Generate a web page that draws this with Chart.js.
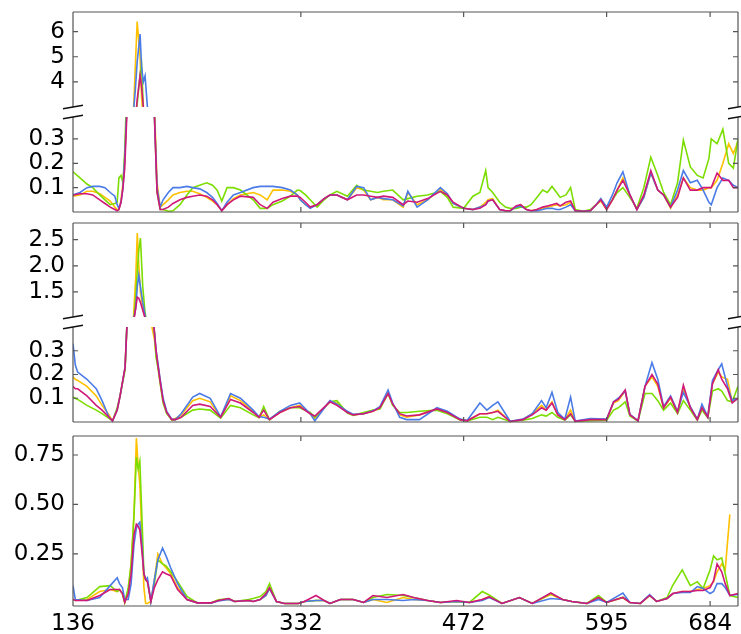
<!DOCTYPE html>
<html><head><meta charset="utf-8">
<script src="https://cdn.jsdelivr.net/npm/chart.js@4.4.1/dist/chart.umd.min.js"></script>
<style>
html,body{margin:0;padding:0;background:#fff;}
#wrap{position:relative;width:741px;height:634px;overflow:hidden;background:#fff;}
canvas{position:absolute;left:0;}
</style></head><body>
<div id="wrap">
<canvas id="c1"></canvas><canvas id="c2"></canvas><canvas id="c3"></canvas><canvas id="c4"></canvas><canvas id="c5"></canvas>
</div>
<script>
// ---- x axis ----
const xTicks = [136, 332, 472, 595, 684];
const xTickLabels = ['136', '332', '472', '595', '684'];

// ---- y tick labels per axis ----
const p1UpperTicks = [4, 5, 6];
const p1UpperLabels = ['4', '5', '6'];
const p1LowerTicks = [0.1, 0.2, 0.3];
const p1LowerLabels = ['0.1', '0.2', '0.3'];
const p2UpperTicks = [1.5, 2.0, 2.5];
const p2UpperLabels = ['1.5', '2.0', '2.5'];
const p2LowerTicks = [0.1, 0.2, 0.3];
const p2LowerLabels = ['0.1', '0.2', '0.3'];
const p3Ticks = [0.25, 0.5, 0.75];
const p3Labels = ['0.25', '0.50', '0.75'];

// ---- panel 1 (broken axis) ----
const p1X = [136,142,148,153,159,163.5,168,172,174,175.5, 177.3,179,180.5,182.5,185,188,189.5,191.2,193.7,195, 196.5,198,200,203,206,208.3,211,213.5,218,222, 228,234,239,245,251,256,260,264,268.5,274, 280,291,297,303,308,316,323,329,331.4,336, 340,346,352,357,363,372,380,386,392,398, 403,411,420,424,432,441,452,458,463,472, 480,486,491,493,497,503,508,512,517,521, 526,530,535,540,544,548,552,555,560,564, 568,575,581,586,590,595,600,604,609,615, 621,627,633,639,644,650,656,661,667,673, 678,683,685,690,695,700,704,708];
const p1Yellow = [.065,.07,.085,.085,.075,.06,.045,.02,.01,.01, .05,.12,.22,.45,1.5,2.8,4.5,6.4,5.0,3.4, 2.5,2.0,1.5,.9,.45,.12,.02,.03,.05,.07, .08,.085,.085,.075,.06,.045,.03,.005,.03,.055, .07,.08,.07,.05,.09,.09,.085,.07,.05,.03, .02,.03,.055,.07,.07,.05,.1,.09,.05,.06, .05,.05,.02,.08,.03,.05,.095,.07,.035,.015, .01,.02,.04,.05,.055,.01,.005,.005,.02,.03, .01,.005,.01,.015,.02,.025,.03,.025,.03,.04, .005,.003,.005,.03,.045,.01,.05,.09,.14,.07, .01,.06,.16,.09,.07,.015,.07,.14,.1,.09, .09,.1,.1,.13,.2,.28,.24,.29];
const p1Blue = [.07,.08,.1,.105,.105,.1,.08,.065,.03,.015, .04,.1,.22,.45,1.5,2.8,3.6,4.8,5.9,4.6, 4.0,4.24,3.0,1.3,.4,.1,.02,.05,.08,.1, .1,.105,.1,.095,.08,.06,.035,.005,.04,.07, .08,.1,.105,.105,.105,.1,.09,.07,.05,.03, .015,.03,.055,.07,.07,.05,.105,.1,.05,.06, .055,.05,.025,.085,.02,.05,.1,.075,.035,.015, .01,.02,.03,.045,.05,.01,.005,.005,.02,.025, .01,.005,.005,.01,.015,.015,.01,.01,.02,.03, .005,.003,.005,.03,.055,.02,.07,.12,.165,.07, .01,.06,.16,.09,.07,.02,.09,.17,.12,.13, .09,.04,.03,.1,.14,.13,.11,.1];
const p1Green = [.165,.14,.115,.1,.07,.05,.03,.035,.04,.14, .15,.12,.25,.55,1.8,2.0,2.5,3.1,4.3,4.65, 3.0,2.2,1.5,.8,.4,.08,.01,.01,.003,.005, .03,.07,.1,.11,.12,.11,.09,.045,.1,.1, .09,.05,.015,.015,.03,.045,.065,.09,.088,.07, .05,.02,.05,.07,.085,.065,.11,.09,.085,.08, .085,.09,.05,.055,.065,.07,.085,.06,.02,.015, .065,.08,.17,.1,.08,.04,.02,.015,.015,.02, .02,.03,.06,.09,.08,.105,.08,.06,.07,.1, .01,.003,.01,.03,.05,.02,.05,.08,.1,.06, .015,.1,.225,.15,.08,.03,.12,.295,.185,.15, .14,.22,.3,.28,.34,.2,.18,.3];
const p1Magenta = [.07,.075,.075,.07,.05,.035,.02,.01,.005,.01, .04,.1,.18,.42,1.5,2.0,2.4,3.3,4.25,3.8, 3.0,2.2,1.5,.8,.4,.08,.01,.01,.02,.035, .05,.06,.065,.07,.065,.05,.03,.005,.03,.05, .065,.06,.03,.015,.04,.055,.065,.065,.06,.04, .02,.03,.055,.07,.07,.05,.07,.07,.065,.06, .065,.06,.03,.045,.04,.055,.085,.07,.04,.015, .01,.015,.03,.045,.05,.01,.005,.005,.025,.03, .01,.005,.01,.02,.025,.03,.035,.025,.04,.045, .005,.003,.005,.03,.05,.01,.05,.09,.13,.07, .01,.07,.17,.09,.07,.02,.06,.14,.09,.09, .1,.1,.1,.16,.13,.13,.1,.1];

// ---- panel 2 (broken axis) ----
const p2X = [136,138,140,148,156,161,167,170,174,176.5, 180.8,182.5,185,188,190,191.3,192.6,194,196,198, 200,203,206,207.5,209,211,213.5,216.6,221,224, 229,239,245,254,263,271.5,280,291,296,300, 305,314,323,331,340,344,357,363,372,377, 386,394,400,407,411,417,423,434,449,458, 469,475,486,492,497,501.5,512,523,531,539, 543,548,553,559,564,568,581,595,601,605, 611,615,622,628,634,639,644,650,656,661, 667,673,677,682,686,691,694,699,703,708];
const p2Yellow = [.19,.18,.175,.15,.11,.07,.03,.005,.05,.11, .23,.42,.7,1.0,1.8,2.63,2.0,1.5,1.2,1.0, .8,.42,.35,.28,.24,.17,.09,.04,.01,.015, .03,.09,.1,.085,.02,.11,.09,.045,.02,.03, .01,.04,.06,.07,.035,.015,.085,.08,.04,.03, .035,.045,.06,.12,.075,.03,.02,.03,.055,.04, .01,.005,.035,.035,.04,.05,.002,.01,.035,.07, .05,.085,.03,.01,.05,.003,.01,.01,.08,.09, .13,.03,.005,.15,.19,.15,.06,.1,.04,.14, .06,.01,.065,.02,.16,.21,.19,.18,.085,.1];
const p2Blue = [.33,.24,.21,.18,.14,.09,.02,.005,.05,.11, .23,.42,.7,.95,1.2,1.6,1.82,1.6,1.3,1.05, .9,.6,.38,.3,.25,.18,.1,.045,.012,.01, .035,.105,.12,.1,.022,.12,.1,.05,.022,.02, .012,.045,.07,.08,.035,.005,.09,.075,.045,.032, .035,.047,.065,.135,.08,.02,.01,.01,.06,.045, .012,.006,.08,.05,.07,.085,.003,.012,.035,.09, .06,.125,.04,.012,.105,.004,.015,.012,.085,.1, .13,.032,.006,.15,.25,.18,.065,.11,.045,.125, .065,.012,.075,.022,.175,.22,.245,.15,.09,.1];
const p2Green = [.105,.1,.095,.07,.05,.035,.015,.004,.06,.11, .22,.42,.7,.9,1.4,1.9,2.3,2.53,1.6,1.1, .85,.55,.38,.27,.23,.16,.08,.035,.008,.01, .02,.05,.055,.05,.016,.07,.06,.03,.018,.065, .009,.045,.06,.06,.04,.02,.085,.09,.038,.028, .04,.05,.055,.12,.07,.04,.04,.045,.05,.035, .008,.004,.02,.02,.01,.02,.002,.008,.015,.03, .025,.04,.02,.008,.03,.003,.005,.008,.05,.06, .085,.025,.004,.12,.12,.09,.05,.08,.035,.09, .05,.008,.05,.018,.13,.14,.13,.09,.085,.15];
const p2Magenta = [.15,.14,.14,.11,.07,.05,.02,.005,.05,.11, .23,.42,.7,.9,1.2,1.4,1.38,1.3,1.15,1.0, .85,.55,.38,.3,.24,.17,.09,.04,.01,.01, .02,.07,.075,.065,.02,.095,.08,.04,.02,.05, .01,.04,.06,.065,.035,.025,.085,.07,.04,.03, .035,.045,.06,.12,.075,.035,.025,.03,.055,.04, .01,.005,.035,.035,.04,.045,.002,.01,.03,.06, .05,.08,.03,.01,.035,.003,.01,.01,.085,.095, .135,.03,.005,.15,.2,.16,.06,.105,.04,.155, .06,.01,.06,.02,.16,.22,.18,.14,.08,.1];

// ---- panel 3 ----
const p3X = [136,138,148,159,168,174,176,178.5,180.5,183.5, 186,188.5,190.5,192,193.5,195.5,197,198.5,200,203, 206,209,213,216,220,226,234,243,255,261, 270,275,287,291,297,302,305,311,318,330, 335,345,352,357,366,377,386,394,406,420, 429,441,452,466,477,488,494,505,520,531, 547,557,565,578,588,595,609,615,624,632, 638,647,652,660,667,673,678,684,687,690, 694,697,701,708];
const p3Yellow = [.02,.015,.02,.06,.07,.06,.07,.05,.005,.05, .2,.45,.835,.7,.6,.3,.08,0,0,.01, .12,.25,.2,.18,.15,.08,.02,.003,.003,.015, .02,.01,.015,.01,.02,.04,.075,.01,0,0, .01,.015,.015,0,.02,.02,.005,.02,.005,.03, .02,.015,.005,.01,.005,.02,.035,0,.03,0, .045,.02,.01,0,.03,.005,.03,.005,0,.04, .01,.025,.05,.06,.06,.07,.075,.09,.11,.16, .2,.17,.45,null];
const p3Blue = [.09,.02,.015,.03,.09,.13,.1,.08,.02,.02, .1,.3,.38,.4,.41,.28,.15,.12,.13,.01, .12,.22,.28,.24,.18,.1,.02,.003,.003,.012, .02,.01,.015,.01,.02,.04,.075,.01,0,0, .01,.015,.015,0,.02,.02,.005,.02,.02,.015, .02,.015,.005,.01,.005,.015,.03,0,.03,0, .025,.02,.01,0,.02,.005,.053,.005,0,.045, .01,.025,.05,.055,.055,.085,.075,.05,.06,.1, .1,.08,.04,.045];
const p3Green = [.02,.015,.03,.085,.09,.06,.07,.05,.005,.08, .2,.45,.74,.68,.72,.4,.15,.12,.11,.01, .1,.22,.2,.19,.16,.11,.035,.003,.003,.018, .025,.01,.02,.025,.035,.06,.1,.01,0,0, .01,.015,.015,0,.02,.02,.005,.03,.045,.04, .03,.015,.005,.01,.005,.06,.043,0,.03,0, .05,.02,.01,0,.04,.005,.03,.005,0,.04, .01,.03,.093,.17,.09,.11,.075,.17,.24,.22, .23,.15,.04,.03];
const p3Magenta = [.02,.015,.015,.04,.07,.07,.07,.05,.005,.05, .15,.35,.4,.39,.37,.25,.15,.12,.11,.01, .08,.12,.16,.15,.14,.07,.02,.003,.003,.015, .025,.01,.015,.01,.02,.05,.08,.01,0,0, .01,.04,.015,0,.02,.02,.005,.04,.03,.045, .03,.015,.005,.015,.005,.02,.033,0,.03,0, .053,.02,.01,0,.03,.005,.03,.005,0,.04, .01,.025,.05,.06,.06,.065,.065,.08,.115,.2, .16,.1,.04,.05];

// ---- styling ----
const SERIES = [
  {color: '#FFC000', order: 3},
  {color: '#4A7BE6', order: 1},
  {color: '#7CDD00', order: 2},
  {color: '#D0187A', order: 0}
];
const FONT = {family: 'DejaVu Sans', size: 23};
const SPINE = '#555';

const framePlugin = {
  id: 'frame',
  afterDatasetsDraw(chart) {
    const o = chart.options.plugins.frame;
    const ctx = chart.ctx, a = chart.chartArea;
    const xs = chart.scales.x, ys = chart.scales.y;
    const L = a.left, R = a.right, T = a.top, B = a.bottom;
    const hasTop = o.part !== 'lower', hasBot = o.part !== 'upper';
    ctx.save();
    ctx.strokeStyle = SPINE; ctx.lineWidth = 1.2;
    ctx.beginPath();
    ctx.moveTo(L, T); ctx.lineTo(L, B);
    ctx.moveTo(R, T); ctx.lineTo(R, B);
    if (hasTop) { ctx.moveTo(L, T); ctx.lineTo(R, T); }
    if (hasBot) { ctx.moveTo(L, B); ctx.lineTo(R, B); }
    o.yTicks.forEach(v => {
      const py = ys.getPixelForValue(v);
      ctx.moveTo(L, py); ctx.lineTo(L + 5, py);
      ctx.moveTo(R, py); ctx.lineTo(R - 5, py);
    });
    xTicks.forEach(v => {
      const px = xs.getPixelForValue(v);
      if (px <= L + 1 || px >= R - 1) return;
      if (hasTop) { ctx.moveTo(px, T); ctx.lineTo(px, T + 5); }
      if (hasBot) { ctx.moveTo(px, B); ctx.lineTo(px, B - 5); }
    });
    ctx.stroke();
    if (o.part === 'upper' || o.part === 'lower') {
      const cy = o.part === 'upper' ? B : T;
      ctx.strokeStyle = '#111'; ctx.lineWidth = 1.5;
      ctx.beginPath();
      [L, R].forEach(cx => { ctx.moveTo(cx - 10, cy + 1.8); ctx.lineTo(cx + 10, cy - 1.8); });
      ctx.stroke();
    }
    ctx.restore();
  }
};

function makePanel(id, area, xs, series, yMin, yMax, yTickVals, yTickLabels, part) {
  const W = 741, PAD = 12, XAX = 28;
  const full = part === 'full';
  const canvas = document.getElementById(id);
  const h = PAD + (area[1] - area[0]) + (full ? XAX : PAD);
  canvas.width = W; canvas.height = h;
  canvas.style.top = (area[0] - PAD) + 'px';
  canvas.style.width = W + 'px'; canvas.style.height = h + 'px';
  const clip = part === 'upper' ? {left: 0, right: 0, top: 3, bottom: 0}
             : {left: 0, right: 0, top: 0, bottom: 3};
  const datasets = SERIES.map((s, i) => ({
    data: xs.map((x, j) => ({x: x, y: series[i][j]})),
    borderColor: s.color, borderWidth: 1.6, pointRadius: 0, tension: 0,
    fill: false, clip: clip, order: s.order, spanGaps: false
  }));
  const xScale = {
    type: 'linear', min: 136, max: 708, display: full,
    grid: {display: false, drawTicks: false}, border: {display: false},
    ticks: {font: FONT, color: '#000', padding: 4, autoSkip: false, maxRotation: 0,
            callback: (v, i) => xTickLabels[i]},
    afterBuildTicks: s => { s.ticks = xTicks.map(v => ({value: v})); }
  };
  xScale.afterFit = s => {
    if (full) s.height = XAX;
    s.paddingLeft = 0; s.paddingRight = 0; s.paddingTop = 0; s.paddingBottom = 0;
  };
  return new Chart(canvas, {
    type: 'line',
    data: {datasets},
    options: {
      responsive: false, maintainAspectRatio: false, animation: false, devicePixelRatio: 1,
      layout: {padding: {left: 0, right: 3, top: PAD, bottom: full ? 0 : PAD}},
      plugins: {legend: {display: false}, tooltip: {enabled: false},
                frame: {part: part, yTicks: yTickVals}},
      scales: {
        x: xScale,
        y: {
          type: 'linear', min: yMin, max: yMax,
          grid: {display: false, drawTicks: false}, border: {display: false},
          ticks: {font: FONT, color: '#000', padding: 8, autoSkip: false,
                  callback: (v, i) => yTickLabels[i]},
          afterBuildTicks: s => { s.ticks = yTickVals.map(v => ({value: v})); },
          afterFit: s => {
            s.width = 73;
            s.paddingTop = 0; s.paddingBottom = 0; s.paddingLeft = 0; s.paddingRight = 0;
          }
        }
      }
    },
    plugins: [framePlugin]
  });
}

const p1 = [p1Yellow, p1Blue, p1Green, p1Magenta];
const p2 = [p2Yellow, p2Blue, p2Green, p2Magenta];
const p3 = [p3Yellow, p3Blue, p3Green, p3Magenta];
makePanel('c1', [12, 107], p1X, p1, 3.0, 6.78, p1UpperTicks, p1UpperLabels, 'upper');
makePanel('c2', [117, 212], p1X, p1, 0, 0.39, p1LowerTicks, p1LowerLabels, 'lower');
makePanel('c3', [223, 317], p2X, p2, 1.02, 2.82, p2UpperTicks, p2UpperLabels, 'upper');
makePanel('c4', [327, 422], p2X, p2, 0, 0.40, p2LowerTicks, p2LowerLabels, 'lower');
makePanel('c5', [436, 606], p3X, p3, -0.013, 0.846, p3Ticks, p3Labels, 'full');
</script>
</body></html>
